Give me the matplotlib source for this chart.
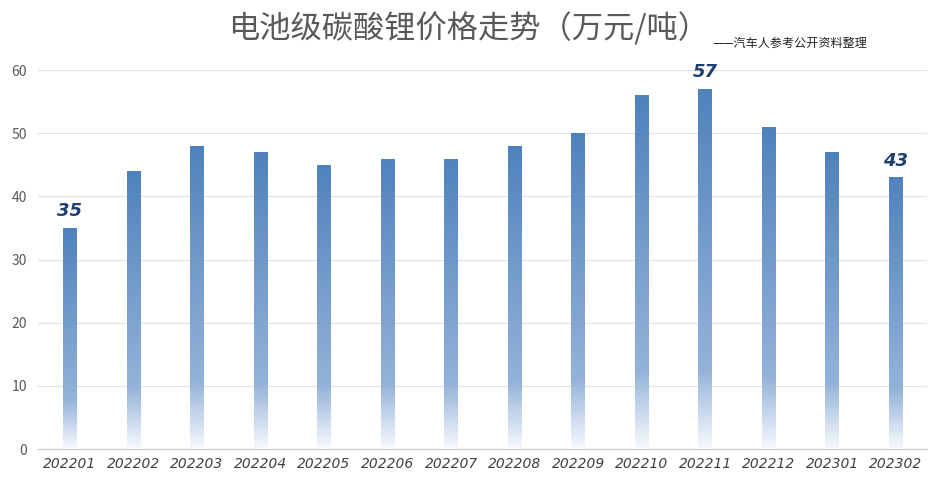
import numpy as np
import matplotlib.pyplot as plt
from matplotlib.colors import LinearSegmentedColormap

plt.rcParams['font.family'] = ['Noto Sans CJK SC', 'DejaVu Sans']

months = ['202201', '202202', '202203', '202204', '202205', '202206', '202207',
          '202208', '202209', '202210', '202211', '202212', '202301', '202302']
price = [35, 44, 48, 47, 45, 46, 46, 48, 50, 56, 57, 51, 47, 43]
labeled = ['202201', '202211', '202302']

# gradient: white at the bottom of each bar, blue at the top
cmap = LinearSegmentedColormap.from_list('bar_grad', [
    (0.0, (0.97, 0.98, 0.995)),
    (0.22, (0.58, 0.70, 0.85)),
    (1.0, (0.31, 0.51, 0.74)),
])

fig = plt.figure(figsize=(9.44, 4.87), dpi=100)
ax = fig.add_axes([0.0405, 0.078, 0.942, 0.778])

x = np.arange(len(months))
bars = ax.bar(x, price, width=0.22, facecolor='none', edgecolor='none', zorder=3)
grad = np.linspace(0, 1, 256).reshape(-1, 1)
for b in bars:
    bx, by = b.get_x(), b.get_y()
    w, h = b.get_width(), b.get_height()
    im = ax.imshow(grad, cmap=cmap, origin='lower', aspect='auto',
                   extent=[bx, bx + w, by, by + h], zorder=3)
    im.set_clip_path(b)

for i, m in enumerate(months):
    if m in labeled:
        ax.text(x[i], price[i] + 1.2, str(price[i]), ha='center', va='bottom',
                fontsize=13, fontweight='bold', fontstyle='italic',
                color='#1F3F73', family='DejaVu Sans', zorder=4)

ax.set_xlim(-0.5, len(months) - 0.5)
ax.set_ylim(0, 60)
ax.set_yticks(range(0, 61, 10))
ax.set_xticks(x)
ax.set_xticklabels(months, fontstyle='italic', fontsize=10, color='#404040',
                   family='DejaVu Sans')
ax.tick_params(axis='y', labelsize=10, labelcolor='#595959', length=0, pad=8)
ax.tick_params(axis='x', length=0, pad=6)
ax.grid(axis='y', color='#E3E3E3', linewidth=0.9, zorder=0)
for s in ['top', 'right', 'left']:
    ax.spines[s].set_visible(False)
ax.spines['bottom'].set_color('#C8C8C8')
ax.set_axisbelow(True)

fig.text(0.496, 0.94, '电池级碳酸锂价格走势（万元/吨）', ha='center', va='center',
         fontsize=22.5, fontweight='medium', color='#595959')
fig.text(0.755, 0.912, '——汽车人参考公开资料整理', ha='left', va='center',
         fontsize=8.7, color='#222222')

fig.savefig('out.png', dpi=100)
